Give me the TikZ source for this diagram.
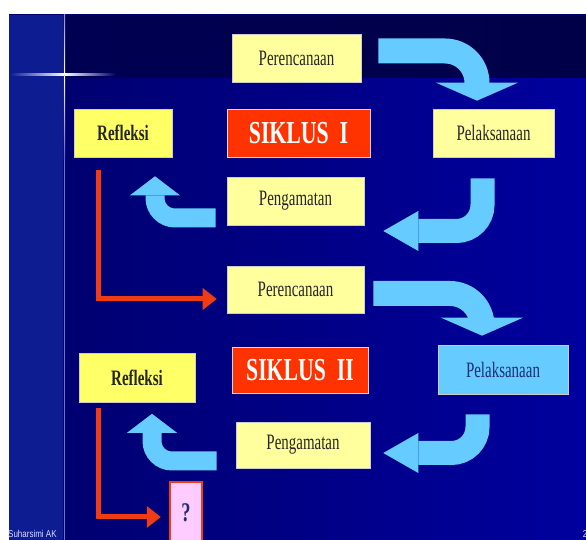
\documentclass[tikz,border=0pt]{standalone}
\usepackage{fontspec}
\setmainfont{Liberation Serif}[FakeStretch=0.68]
\newfontfamily\footfont{Liberation Sans}[FakeStretch=0.8]
\usepackage{tikz}
\usetikzlibrary{arrows.meta, positioning, shapes}
\definecolor{slideNavy}{RGB}{0,0,108}
\definecolor{slideBlue}{RGB}{0,0,158}
\definecolor{topNavy}{RGB}{0,0,80}
\definecolor{stripBlue}{RGB}{14,28,145}
\definecolor{boxYellow}{RGB}{255,255,158}
\definecolor{refYellow}{RGB}{255,255,102}
\definecolor{siklusRed}{RGB}{255,51,0}
\definecolor{arrowBlue}{RGB}{102,204,255}
\definecolor{redArrow}{RGB}{240,60,20}
\definecolor{qPink}{RGB}{255,204,255}
\definecolor{textNavy}{RGB}{30,45,120}
\tikzstyle{planBox} = [rectangle, minimum height=48pt, inner sep=0pt, fill=boxYellow, draw=gray!40, line width=0.6pt, text=black!85, font=\fontsize{22}{24}\selectfont]
\tikzstyle{refBox} = [planBox, fill=refYellow, font=\fontsize{22}{24}\selectfont\bfseries]
\tikzstyle{siklusBox} = [rectangle, minimum height=48pt, inner sep=0pt, fill=siklusRed, draw=gray!30, line width=0.6pt, text=white, font=\fontsize{32}{34}\selectfont\bfseries]
\tikzstyle{qBox} = [rectangle, minimum width=32pt, minimum height=66pt, inner sep=0pt, fill=qPink, draw=redArrow, line width=2.5pt, text=textNavy, font=\fontsize{27}{28}\selectfont\bfseries]
\tikzstyle{redLink} = [draw=redArrow, line width=5pt, -{Triangle[length=14pt, width=22pt, line width=0pt]}]
\tikzstyle{bendArrow} = [draw=arrowBlue, line width=25pt, rounded corners=32pt, -{Triangle[length=18pt, width=82pt, line width=0pt]}]
\tikzstyle{hookArrow} = [draw=arrowBlue, line width=24pt, rounded corners=26pt, -{Triangle[length=35pt, width=40pt, line width=0pt]}]
\tikzstyle{upArrow} = [draw=arrowBlue, line width=19pt, rounded corners=20pt, -{Triangle[length=19pt, width=50pt, line width=0pt]}]
\tikzstyle{footText} = [inner sep=0pt, text=blue!15!white, font=\footfont\fontsize{10}{12}\selectfont]

\begin{document}
\begin{tikzpicture}[x=1pt, y=1pt, node distance=75pt]
\useasboundingbox (0,0) rectangle (586,540);
\fill[white] (0,0) rectangle (586,540);
\fill[left color=slideNavy, right color=slideBlue] (9,0) rectangle (586,525);
\fill[left color=slideNavy, right color=topNavy, opacity=0.6] (63,462) rectangle (586,525);
\fill[stripBlue] (9,0) rectangle (63,525);
\draw[stripBlue!60!white, line width=1pt] (64.5,0) -- (64.5,380);
\fill[top color=white, bottom color=stripBlue!70!white] (63.8,380) rectangle (65.2,465);
\fill[bottom color=white, top color=stripBlue!50!white] (63.8,465) rectangle (65.2,525);
\fill[left color=stripBlue, right color=white] (10,464) rectangle (64.5,466);
\fill[left color=white, right color=slideNavy] (64.5,464) rectangle (115,466);

\node (pc1) [planBox, minimum width=129pt] at (296.5,482) {Perencanaan};
\node (sk1) [siklusBox, minimum width=143pt, below of = pc1, xshift=2pt] {SIKLUS~~I};
\node (rf1) [refBox, minimum width=98pt, left of = sk1, xshift=-100.5pt] {Refleksi};
\node (pl1) [planBox, minimum width=121pt, right of = sk1, xshift=120pt] {Pelaksanaan};
\node (pg1) [planBox, minimum width=137pt, below of = sk1, xshift=-3pt, yshift=7pt] {Pengamatan};
\node (pc2) [planBox, minimum width=137pt, minimum height=47pt, below of = pg1, yshift=-13.5pt] {Perencanaan};
\node (sk2) [siklusBox, minimum width=136pt, minimum height=46pt, below of = pc2, xshift=4.5pt, yshift=-5.5pt] {SIKLUS~~II};
\node (rf2) [refBox, minimum width=116pt, minimum height=49pt, left of = sk2, xshift=-88pt, yshift=-7.5pt] {Refleksi};
\node (pl2) [planBox, fill=arrowBlue, text=textNavy, minimum width=130pt, minimum height=49pt, right of = sk2, xshift=128pt] {Pelaksanaan};
\node (pg2) [planBox, minimum width=134pt, minimum height=46pt, below of = sk2, xshift=3pt] {Pengamatan};
\node (q) [qBox, below of = pg2, xshift=-117pt, yshift=5pt] {\raisebox{5pt}{?}};
\node (au) [footText, anchor=west] at (8,6) {Suharsimi AK};
\node (pn) [footText] at (585,6) {2};

\draw [bendArrow] ([xshift=17pt, yshift=7pt]pc1.east) -| ([xshift=-16.5pt, yshift=8pt]pl1.north);
\draw [hookArrow] ([xshift=-11pt, yshift=-21pt]pl1.south) |- ([xshift=19pt, yshift=-30pt]pg1.east);
\draw [upArrow] ([xshift=-11pt, yshift=-17pt]pg1.west) -| ([xshift=32pt, yshift=-19pt]rf1.south);
\draw [redLink] ([xshift=-25pt, yshift=-13pt]rf1.south) |- ([xshift=-10pt, yshift=-9.5pt]pc2.west);
\draw [bendArrow] ([xshift=9pt, yshift=-4pt]pc2.east) -| ([xshift=-21pt, yshift=9.5pt]pl2.north);
\draw [hookArrow] ([xshift=-25.5pt, yshift=-19.5pt]pl2.south) |- ([xshift=13pt, yshift=-8pt]pg2.east);
\draw [upArrow] ([xshift=-19pt, yshift=-16pt]pg2.west) -| ([xshift=15pt, yshift=-11.5pt]rf2.south);
\draw [redLink] ([xshift=-39pt, yshift=-6pt]rf2.south) |- ([xshift=-8pt, yshift=-2pt]q.west);
\end{tikzpicture}
\end{document}
